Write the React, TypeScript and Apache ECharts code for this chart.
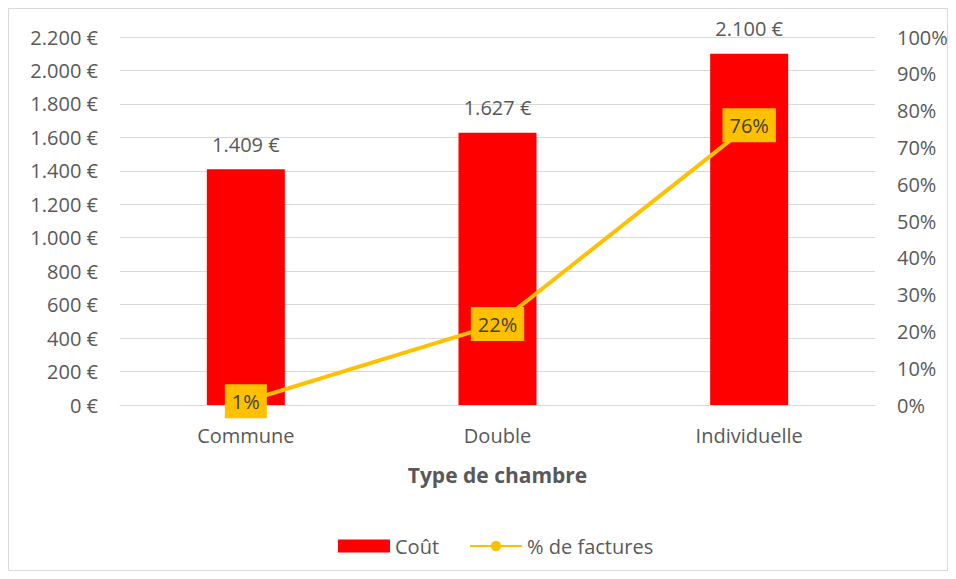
import React, { useEffect, useRef } from "react";
import * as echarts from "echarts";

const categories = ["Commune", "Double", "Individuelle"];
const costValues = [1409, 1627, 2100];
const pctValues = [0.01, 0.22, 0.76];
const costTicks = { min: 0, max: 2200, interval: 200 };
const pctTicks = { min: 0, max: 1, interval: 0.1 };

const FONT = "'Open Sans', 'Noto Sans', sans-serif";
const GRAY = "#595959";

function fmtEuro(v: number): string {
  const s = Math.round(v).toString().replace(/\B(?=(\d{3})+(?!\d))/g, ".");
  return s + " €";
}

export default function App() {
  const ref = useRef<HTMLDivElement>(null);
  useEffect(() => {
    if (!ref.current) return;
    const chart = echarts.init(ref.current, undefined, { renderer: "svg" });
    chart.setOption({
      animation: false,
      backgroundColor: "#ffffff",
      textStyle: { fontFamily: FONT },
      graphic: [
        {
          type: "rect",
          shape: { x: 8.5, y: 8.5, width: 939, height: 562 },
          style: { fill: "none", stroke: "#d9d9d9", lineWidth: 1 },
          silent: true,
        },
      ],
      grid: { left: 120, right: 81, top: 37, bottom: 174, containLabel: false },
      legend: {
        bottom: 18,
        left: 333,
        itemWidth: 52,
        itemHeight: 13,
        itemGap: 30,
        textStyle: { color: GRAY, fontSize: 20, fontFamily: FONT },
        data: [
          { name: "Coût", icon: "rect" },
          { name: "% de factures" },
        ],
      },
      xAxis: {
        type: "category",
        data: categories,
        name: "Type de chambre",
        nameLocation: "middle",
        nameGap: 59,
        nameTextStyle: { color: GRAY, fontSize: 21, fontWeight: "bold", fontFamily: FONT },
        axisLine: { lineStyle: { color: "#d9d9d9" } },
        axisTick: { show: false },
        axisLabel: { color: GRAY, fontSize: 20, margin: 20, fontFamily: FONT },
      },
      yAxis: [
        {
          type: "value",
          min: costTicks.min,
          max: costTicks.max,
          interval: costTicks.interval,
          axisLine: { show: false },
          axisTick: { show: false },
          splitLine: { lineStyle: { color: "#d9d9d9", width: 1 } },
          axisLabel: {
            color: GRAY,
            fontSize: 20,
            margin: 22,
            fontFamily: FONT,
            formatter: (v: number) => fmtEuro(v),
          },
        },
        {
          type: "value",
          min: pctTicks.min,
          max: pctTicks.max,
          interval: pctTicks.interval,
          axisLine: { show: false },
          axisTick: { show: false },
          splitLine: { show: false },
          axisLabel: {
            color: GRAY,
            fontSize: 20,
            margin: 22,
            fontFamily: FONT,
            formatter: (v: number) => Math.round(v * 100) + "%",
          },
        },
      ],
      series: [
        {
          name: "Coût",
          type: "bar",
          yAxisIndex: 0,
          data: costValues,
          barWidth: 78,
          itemStyle: { color: "#ff0000" },
          label: {
            show: true,
            position: "top",
            distance: 15,
            color: GRAY,
            fontSize: 20,
            fontFamily: FONT,
            formatter: (p: any) => fmtEuro(p.value),
          },
        },
        {
          name: "% de factures",
          type: "line",
          yAxisIndex: 1,
          data: pctValues,
          symbol: "circle",
          symbolSize: 10,
          lineStyle: { color: "#ffc000", width: 4 },
          itemStyle: { color: "#ffc000" },
          label: {
            show: true,
            position: "inside",
            backgroundColor: "#ffc000",
            padding: [7, 7, 7, 7],
            color: "#404040",
            fontSize: 20,
            fontFamily: FONT,
            formatter: (p: any) => Math.round(p.value * 100) + "%",
          },
          z: 3,
        },
      ],
    });
    return () => chart.dispose();
  }, []);
  return (
    <div
      ref={ref}
      style={{ position: "fixed", left: 0, top: 0, width: 956, height: 579 }}
    />
  );
}
